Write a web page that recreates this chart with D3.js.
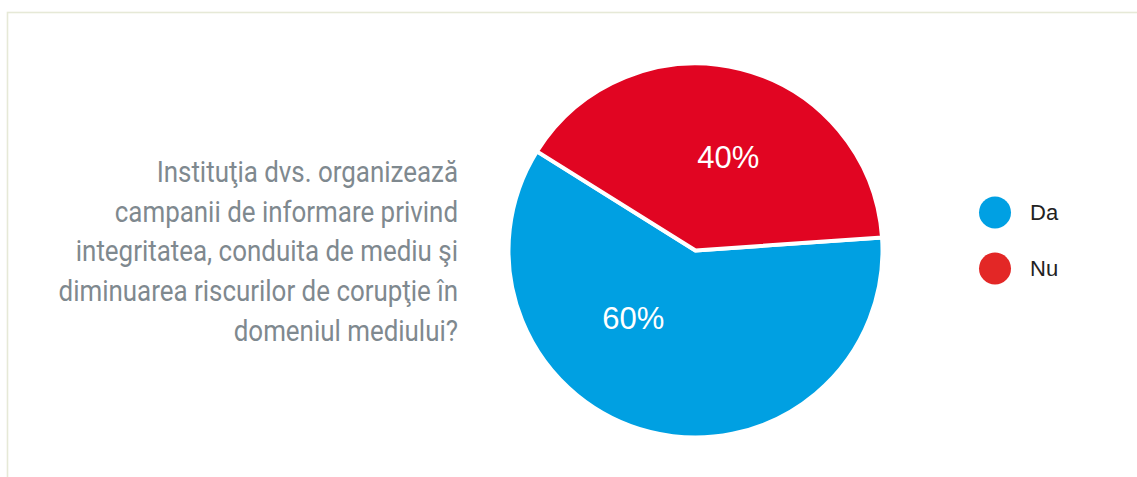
<!DOCTYPE html>
<html>
<head>
<meta charset="utf-8">
<script src="https://cdn.jsdelivr.net/npm/d3@7"></script>
<style>
  html, body { margin: 0; padding: 0; background: #ffffff; }
  svg { display: block; }
</style>
</head>
<body>
<svg id="chart" width="1137" height="477"></svg>
<script>
// ---- data ----
const categories = ["Da", "Nu"];
const values = [60, 40];
const sliceColors = ["#00a0e2", "#e10522"];
const legendColors = ["#00a0e3", "#e32726"];
const titleLines = [
  "Instituţia dvs. organizează",
  "campanii de informare privind",
  "integritatea, conduita de mediu şi",
  "diminuarea riscurilor de corupţie în",
  "domeniul mediului?"
];

// ---- layout ----
const W = 1137, H = 477;
const svg = d3.select("#chart");

// frame
svg.append("rect")
  .attr("x", 7.5).attr("y", 12.5)
  .attr("width", 1300).attr("height", 700)
  .attr("fill", "none")
  .attr("stroke", "#e6e9d7")
  .attr("stroke-width", 1.6);

// title (right aligned, condensed look)
const titleG = svg.append("g");
const titleText = titleG.selectAll("text")
  .data(titleLines)
  .join("text")
  .attr("x", 0)
  .attr("y", (d, i) => 182 + i * 39.7)
  .attr("text-anchor", "end")
  .attr("font-family", "Roboto, 'Noto Sans', sans-serif")
  .attr("font-size", 30)
  .attr("fill", "#7f898f")
  .text(d => d);
const firstW = titleText.node().getComputedTextLength();
const sx = 301.6 / firstW;
titleG.attr("transform", `translate(458,0) scale(${sx},1)`);

// pie
const cx = 695.5, cy = 250.5, R = 187;
const a0 = 86 * Math.PI / 180;
const pie = d3.pie().sort(null).value(d => d.v)
  .startAngle(a0).endAngle(a0 + 2 * Math.PI);
const data = categories.map((c, i) => ({ c, v: values[i], i }));
const arcs = pie(data);
const arc = d3.arc().innerRadius(0).outerRadius(R);

const pg = svg.append("g").attr("transform", `translate(${cx},${cy})`);
pg.selectAll("path")
  .data(arcs)
  .join("path")
  .attr("d", arc)
  .attr("fill", d => sliceColors[d.data.i])
  .attr("stroke", "#ffffff")
  .attr("stroke-width", 4)
  .attr("stroke-linejoin", "round");

// labels
const total = d3.sum(values);
const labelFrac = { Da: 0.632, Nu: 0.536 };
const labelRad = { Da: 92, Nu: 99.6 };
pg.selectAll("text.lbl")
  .data(arcs)
  .join("text")
  .attr("class", "lbl")
  .attr("transform", d => {
    const a = d.startAngle + (d.endAngle - d.startAngle) * labelFrac[d.data.c];
    const r = labelRad[d.data.c];
    return `translate(${r * Math.sin(a)},${-r * Math.cos(a)})`;
  })
  .attr("dy", "0.36em")
  .attr("text-anchor", "middle")
  .attr("font-family", "'Liberation Sans', Arial, sans-serif")
  .attr("font-size", 31)
  .attr("fill", "#ffffff")
  .text(d => Math.round(d.data.v / total * 100) + "%");

// legend
const lg = svg.append("g");
const legendY = d3.scalePoint().domain(categories).range([212.5, 268.5]);
const item = lg.selectAll("g")
  .data(categories)
  .join("g")
  .attr("transform", d => `translate(995,${legendY(d)})`);
item.append("circle")
  .attr("r", 16)
  .attr("fill", (d, i) => legendColors[i]);
item.append("text")
  .attr("x", 35)
  .attr("dy", "0.36em")
  .attr("font-family", "'Liberation Sans', Arial, sans-serif")
  .attr("font-size", 22)
  .attr("fill", "#222222")
  .text(d => d);
</script>
</body>
</html>
